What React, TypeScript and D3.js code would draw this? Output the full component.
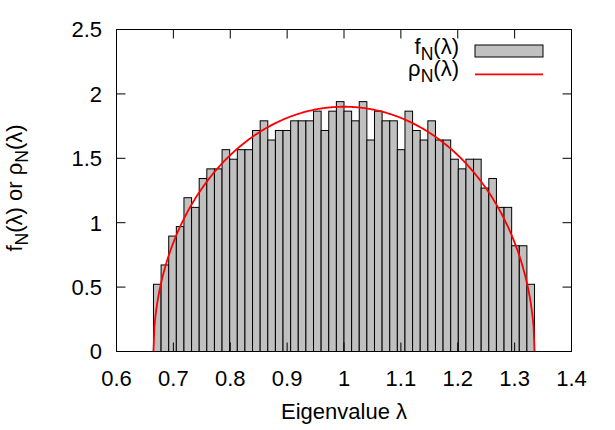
import { useEffect } from 'react'
import * as d3 from 'd3'

// histogram of 1000 eigenvalues, 50 bins
const binStart = 0.665
const binWidth = 0.0134
const density = [
  0.522, 0.672, 0.896, 0.97, 1.194, 1.119, 1.343, 1.418, 1.418, 1.567,
  1.493, 1.567, 1.567, 1.716, 1.791, 1.642, 1.716, 1.716, 1.791, 1.791,
  1.791, 1.866, 1.716, 1.866, 1.94, 1.866, 1.791, 1.94, 1.642, 1.866,
  1.791, 1.791, 1.567, 1.866, 1.716, 1.642, 1.791, 1.642, 1.642, 1.493,
  1.418, 1.493, 1.493, 1.269, 1.343, 1.119, 1.119, 0.821, 0.821, 0.522,
]

// theoretical semicircle density rho_N
const rhoCenter = 1.0
const rhoRadius = 0.335

const xTicks = [0.6, 0.7, 0.8, 0.9, 1, 1.1, 1.2, 1.3, 1.4]
const yTicks = [0, 0.5, 1, 1.5, 2, 2.5]

const W = 615
const H = 430
const margin = { left: 116.5, right: 571.5, top: 29.5, bottom: 351.5 }
const font = '"Liberation Sans", Arial, Helvetica, sans-serif'
const fs = 22
const tickLen = 9

const rho = (l: number) => {
  const d = rhoRadius * rhoRadius - (l - rhoCenter) * (l - rhoCenter)
  return d <= 0 ? 0 : (2 / (Math.PI * rhoRadius * rhoRadius)) * Math.sqrt(d)
}

function Sub({ text }: { text: string }) {
  return null
}

export default function App() {
  useEffect(() => {
    document.body.style.margin = '0'
  }, [])

  const x = d3.scaleLinear([0.6, 1.4], [margin.left, margin.right])
  const y = d3.scaleLinear([0, 2.5], [margin.bottom, margin.top])

  const lo = rhoCenter - rhoRadius
  const hi = rhoCenter + rhoRadius
  const samples = d3.range(0, 401).map(i => lo + ((hi - lo) * i) / 400)
  const line = d3.line<number>()
    .x(d => x(d))
    .y(d => y(rho(d)))

  const fmt = (v: number) => String(v)

  return (
    <svg width={W} height={H} style={{ display: 'block', background: '#fff' }} fontFamily={font}>
      {/* bars */}
      <g>
        {density.map((v, i) => {
          const x0 = x(binStart + i * binWidth)
          const x1 = x(binStart + (i + 1) * binWidth)
          return (
            <rect key={i} x={x0} y={y(v)} width={x1 - x0} height={y(0) - y(v)}
              fill="#c0c0c0" stroke="#000" strokeWidth={1} />
          )
        })}
      </g>

      {/* curve */}
      <path d={line(samples) || ''} fill="none" stroke="#ff0000" strokeWidth={1.8} />

      {/* frame */}
      <rect x={margin.left} y={margin.top} width={margin.right - margin.left}
        height={margin.bottom - margin.top} fill="none" stroke="#000" strokeWidth={1} />

      {/* ticks */}
      <g stroke="#000" strokeWidth={1}>
        {xTicks.map(t => (
          <g key={'x' + t}>
            <line x1={x(t)} x2={x(t)} y1={margin.bottom} y2={margin.bottom - tickLen} />
            <line x1={x(t)} x2={x(t)} y1={margin.top} y2={margin.top + tickLen} />
          </g>
        ))}
        {yTicks.map(t => (
          <g key={'y' + t}>
            <line x1={margin.left} x2={margin.left + tickLen} y1={y(t)} y2={y(t)} />
            <line x1={margin.right} x2={margin.right - tickLen} y1={y(t)} y2={y(t)} />
          </g>
        ))}
      </g>

      {/* tick labels */}
      <g fontSize={fs} fill="#000">
        {xTicks.map(t => (
          <text key={'xl' + t} x={x(t)} y={386} textAnchor="middle">{fmt(t)}</text>
        ))}
        {yTicks.map(t => (
          <text key={'yl' + t} x={102} y={y(t) + 7.8} textAnchor="end">{fmt(t)}</text>
        ))}
      </g>

      {/* axis titles */}
      <text x={(margin.left + margin.right) / 2} y={419} fontSize={fs} textAnchor="middle">
        Eigenvalue λ
      </text>
      <text transform="translate(22,188) rotate(-90)" fontSize={fs} textAnchor="middle">
        f<tspan fontSize={fs * 0.8} dy={6}>N</tspan><tspan dy={-6}>(λ) or ρ</tspan>
        <tspan fontSize={fs * 0.8} dy={6}>N</tspan><tspan dy={-6}>(λ)</tspan>
      </text>

      {/* legend */}
      <g fontSize={fs}>
        <text x={459} y={54} textAnchor="end">
          f<tspan fontSize={fs * 0.8} dy={6}>N</tspan><tspan dy={-6}>(λ)</tspan>
        </text>
        <rect x={475} y={45} width={68} height={12} fill="#c0c0c0" stroke="#000" strokeWidth={1} />
        <text x={459} y={76} textAnchor="end">
          ρ<tspan fontSize={fs * 0.8} dy={6}>N</tspan><tspan dy={-6}>(λ)</tspan>
        </text>
        <line x1={475} x2={543} y1={74.3} y2={74.3} stroke="#ff0000" strokeWidth={1.8} />
      </g>
    </svg>
  )
}
